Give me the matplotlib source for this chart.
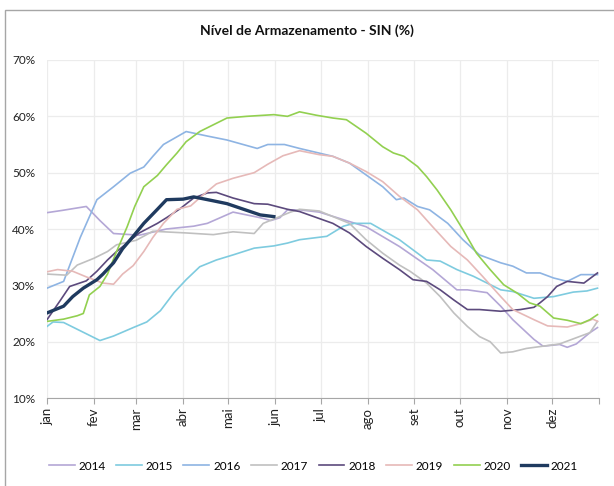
import matplotlib
matplotlib.use("Agg")
import matplotlib.pyplot as plt
from matplotlib.patches import Rectangle

plt.rcParams["font.family"] = ["Lato", "DejaVu Sans"]

MONTHS = ["jan", "fev", "mar", "abr", "mai", "jun", "jul", "ago", "set", "out", "nov", "dez"]
MONTH_START = [0, 31, 59, 90, 120, 151, 181, 212, 243, 273, 304, 334, 365]
YTICKS = [10, 20, 30, 40, 50, 60, 70]
YEARS = ["2014", "2015", "2016", "2017", "2018", "2019", "2020", "2021"]
COLORS = ["#b4a7d6", "#7ecbdf", "#8eb4e3", "#c0c0c0", "#5c4a7d", "#e6b9b8", "#92d050", "#1f3a5f"]

# day of year / stored energy (%)
d2014 = [0, 10, 26, 35, 44, 61, 79, 97, 106, 123, 141, 148, 154, 159, 167, 180, 211, 233, 255,
         271, 278, 291, 300, 308, 322, 328, 339, 344, 350, 359, 364]
v2014 = [42.9, 43.3, 44.0, 41.5, 39.2, 38.9, 40.0, 40.5, 41.0, 43.0, 42.0, 41.5, 42.0, 43.4, 43.4,
         43.0, 40.4, 36.9, 32.8, 29.2, 29.2, 28.7, 26.3, 23.9, 20.4, 19.2, 19.5, 19.0, 19.6, 21.6, 22.5]

d2015 = [0, 4, 11, 35, 44, 57, 66, 75, 84, 92, 101, 112, 123, 137, 150, 159, 167, 185, 196, 203,
         214, 233, 251, 260, 271, 282, 300, 308, 322, 335, 348, 357, 364]
v2015 = [22.7, 23.5, 23.4, 20.2, 21.0, 22.5, 23.5, 25.5, 28.7, 31.0, 33.3, 34.5, 35.4, 36.6, 37.0,
         37.5, 38.1, 38.7, 40.5, 41.0, 41.0, 38.1, 34.5, 34.3, 32.8, 31.6, 29.2, 28.9, 27.7, 28.0,
         28.8, 29.0, 29.5]

d2016 = [0, 11, 22, 33, 44, 55, 64, 70, 77, 92, 106, 119, 139, 146, 157, 167, 189, 200, 211, 222,
         231, 236, 245, 253, 265, 275, 286, 300, 308, 317, 326, 335, 344, 353, 364]
v2016 = [29.5, 30.7, 38.5, 45.2, 47.5, 49.9, 51.0, 52.9, 55.0, 57.3, 56.5, 55.8, 54.3, 55.0, 55.0,
         54.3, 52.9, 51.7, 49.6, 47.5, 45.2, 45.5, 44.0, 43.4, 41.0, 38.1, 35.4, 34.0, 33.4, 32.2,
         32.2, 31.3, 30.7, 31.9, 31.9]

d2017 = [0, 13, 20, 31, 40, 46, 59, 70, 92, 110, 123, 137, 143, 152, 161, 167, 180, 200, 211, 222,
         233, 240, 251, 260, 269, 278, 286, 293, 300, 308, 317, 328, 339, 350, 359, 364]
v2017 = [32.0, 31.8, 33.6, 34.8, 36.0, 37.2, 38.0, 39.6, 39.3, 39.0, 39.5, 39.2, 41.0, 42.0, 43.0,
         43.5, 43.2, 41.0, 38.1, 35.7, 33.6, 32.5, 30.4, 28.0, 25.1, 22.7, 20.9, 20.0, 18.0, 18.2,
         18.8, 19.2, 19.6, 20.7, 21.6, 23.6]

d2018 = [0, 9, 15, 26, 33, 40, 46, 53, 61, 73, 79, 88, 97, 106, 112, 123, 137, 146, 159, 167, 189,
         200, 211, 222, 233, 242, 251, 260, 269, 278, 286, 300, 313, 322, 326, 331, 337, 344, 355, 364]
v2018 = [23.9, 27.4, 29.8, 30.8, 32.5, 34.5, 36.0, 37.5, 39.3, 41.0, 42.0, 43.6, 45.5, 46.4, 46.5,
         45.5, 44.5, 44.4, 43.5, 43.1, 41.0, 39.3, 36.9, 34.8, 32.8, 31.0, 30.7, 29.2, 27.4, 25.7,
         25.7, 25.4, 25.7, 26.1, 26.9, 28.0, 29.8, 30.7, 30.4, 32.2]

d2019 = [0, 7, 17, 26, 37, 44, 50, 57, 64, 70, 77, 86, 95, 103, 112, 123, 137, 146, 156, 167, 180,
         189, 200, 211, 222, 233, 245, 255, 267, 278, 288, 300, 308, 322, 331, 344, 353, 361, 364]
v2019 = [32.4, 32.8, 32.5, 31.5, 30.4, 30.2, 32.0, 33.5, 36.0, 38.5, 41.0, 43.5, 44.1, 46.0, 48.0,
         49.0, 50.0, 51.5, 53.0, 53.9, 53.2, 52.9, 51.7, 50.2, 48.4, 45.8, 43.4, 40.4, 36.9, 34.5,
         31.6, 28.0, 25.7, 23.9, 22.8, 22.6, 23.2, 24.0, 23.6]

d2020 = [0, 11, 20, 24, 28, 35, 40, 46, 53, 58, 64, 73, 79, 86, 92, 101, 110, 119, 132, 150, 159,
         167, 178, 189, 198, 211, 222, 229, 236, 245, 251, 258, 267, 275, 284, 293, 302, 311, 319,
         326, 335, 344, 353, 359, 364]
v2020 = [23.6, 24.0, 24.6, 25.0, 28.3, 29.8, 32.0, 36.0, 40.4, 44.0, 47.5, 49.5, 51.4, 53.5, 55.5,
         57.3, 58.5, 59.7, 60.0, 60.3, 60.0, 60.8, 60.2, 59.7, 59.4, 57.0, 54.6, 53.5, 52.9, 51.1,
         49.3, 46.9, 43.4, 39.9, 35.7, 32.8, 30.1, 28.6, 26.9, 26.3, 24.2, 23.8, 23.2, 23.9, 24.8]

d2021 = [0, 11, 17, 24, 33, 37, 44, 50, 57, 64, 73, 79, 90, 97, 110, 119, 130, 141, 150]
v2021 = [25.1, 26.3, 28.0, 29.5, 31.0, 32.0, 34.0, 36.5, 38.7, 41.0, 43.5, 45.2, 45.3, 45.7, 45.0,
         44.5, 43.5, 42.5, 42.2]

SERIES = [(d2014, v2014), (d2015, v2015), (d2016, v2016), (d2017, v2017),
          (d2018, v2018), (d2019, v2019), (d2020, v2020), (d2021, v2021)]

fig = plt.figure(figsize=(6.14, 4.86), dpi=100)
fig.patches.append(Rectangle((5 / 614, -0.1), 1.2, 1.1 - 10 / 486, transform=fig.transFigure,
                             fill=False, edgecolor="#a6a6a6", linewidth=1))
ax = fig.add_axes([47 / 614, 1 - 398 / 486, 552 / 614, 338 / 486])

for (d, v), year, color in zip(SERIES, YEARS, COLORS):
    lw = 2.4 if year == "2021" else 1.2
    ax.plot(d, v, color=color, linewidth=lw, label=year, zorder=3 if year == "2021" else 2)

ax.set_xlim(0, 365)
ax.set_ylim(10, 70)
ax.set_xticks(MONTH_START)
ax.set_xticklabels(MONTHS + [""], rotation=90, fontsize=9.5, color="#222222")
ax.set_yticks(YTICKS)
ax.set_yticklabels([f"{t}%" for t in YTICKS], fontsize=8.5, color="#222222")
ax.tick_params(axis="y", length=0, pad=8.6)
ax.tick_params(axis="x", length=4, color="#a6a6a6", pad=3)
ax.grid(True, color="#ececec", linewidth=0.9)
for s in ["top", "right", "left"]:
    ax.spines[s].set_visible(False)
ax.spines["bottom"].set_color("#a6a6a6")

fig.text(307 / 614, 1 - 31 / 486, "Nível de Armazenamento - SIN (%)", ha="center", va="center",
         fontsize=10, fontweight="bold", color="#111111")

fig.legend(loc="center", bbox_to_anchor=(0.51, 1 - 466 / 486), ncol=8, frameon=False,
           fontsize=8.5, handlelength=2.2, handletextpad=0.3, columnspacing=0.9)

fig.savefig("out.png", dpi=100)
